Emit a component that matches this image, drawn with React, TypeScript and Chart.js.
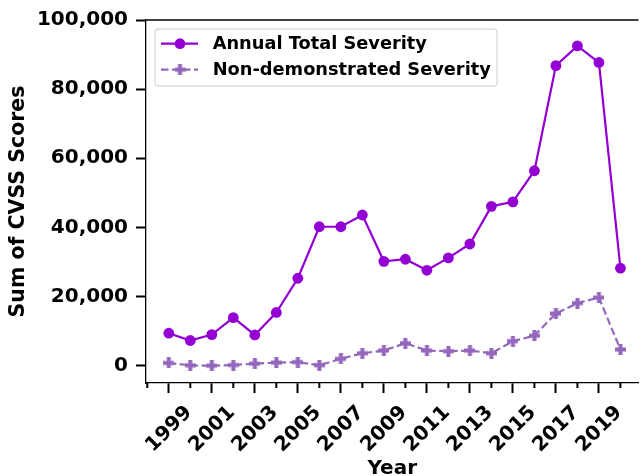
import React, { useEffect, useRef } from 'react';
import { Chart, registerables } from 'chart.js';

Chart.register(...registerables);

const years = [1999, 2000, 2001, 2002, 2003, 2004, 2005, 2006, 2007, 2008, 2009, 2010, 2011, 2012, 2013, 2014, 2015, 2016, 2017, 2018, 2019, 2020];
const annualTotal = [9400, 7300, 9000, 13900, 8900, 15400, 25300, 40200, 40200, 43600, 30200, 30800, 27600, 31200, 35200, 46100, 47400, 56400, 86800, 92500, 87700, 28200];
const nonDemonstrated = [800, 100, 0, 200, 600, 900, 1050, 150, 2000, 3600, 4400, 6500, 4400, 4200, 4400, 3600, 7100, 8700, 15100, 18100, 19700, 4700];
const xTickYears = [1999, 2001, 2003, 2005, 2007, 2009, 2011, 2013, 2015, 2017, 2019];
const yTicks = [0, 20000, 40000, 60000, 80000, 100000];
const seriesLabels = ['Annual Total Severity', 'Non-demonstrated Severity'];

const FAMILY = '"DejaVu Sans", sans-serif';
const annualColor = '#9400d3';
const nonDemColor = '#9467bd';

function makePlus(size: number, arm: number, color: string) {
  const c = document.createElement('canvas');
  c.width = size;
  c.height = size;
  const ctx = c.getContext('2d')!;
  ctx.fillStyle = color;
  const a = (size - arm) / 2;
  ctx.fillRect(a, 0, arm, size);
  ctx.fillRect(0, a, size, arm);
  return c;
}

const decor = {
  id: 'decor',
  afterDraw(chart: any) {
    const { ctx, chartArea: ca, scales } = chart;
    const xs = scales.x;
    ctx.save();
    // top spine
    ctx.strokeStyle = '#000';
    ctx.lineWidth = 1.3;
    ctx.beginPath();
    ctx.moveTo(ca.left, ca.top);
    ctx.lineTo(ca.right, ca.top);
    ctx.stroke();
    // minor ticks
    ctx.lineWidth = 2;
    for (let yr = Math.ceil(xs.min); yr <= Math.floor(xs.max); yr++) {
      if (xTickYears.includes(yr)) continue;
      const px = xs.getPixelForValue(yr);
      ctx.beginPath();
      ctx.moveTo(px, ca.bottom);
      ctx.lineTo(px, ca.bottom + 5);
      ctx.stroke();
    }
    // legend
    const lx = ca.left + 9;
    const ly = ca.top + 9;
    const lw = 342;
    const lh = 57;
    ctx.beginPath();
    const r = 3;
    ctx.moveTo(lx + r, ly);
    ctx.lineTo(lx + lw - r, ly);
    ctx.arcTo(lx + lw, ly, lx + lw, ly + r, r);
    ctx.lineTo(lx + lw, ly + lh - r);
    ctx.arcTo(lx + lw, ly + lh, lx + lw - r, ly + lh, r);
    ctx.lineTo(lx + r, ly + lh);
    ctx.arcTo(lx, ly + lh, lx, ly + lh - r, r);
    ctx.lineTo(lx, ly + r);
    ctx.arcTo(lx, ly, lx + r, ly, r);
    ctx.closePath();
    ctx.fillStyle = 'rgba(255,255,255,0.8)';
    ctx.fill();
    ctx.strokeStyle = '#cccccc';
    ctx.lineWidth = 1;
    ctx.stroke();

    chart.data.datasets.forEach((ds: any, i: number) => {
      const cy = ly + 14.7 + i * 26;
      ctx.strokeStyle = ds.borderColor;
      ctx.lineWidth = ds.borderWidth;
      ctx.setLineDash(ds.borderDash || []);
      ctx.beginPath();
      ctx.moveTo(lx + 6, cy);
      ctx.lineTo(lx + 43, cy);
      ctx.stroke();
      ctx.setLineDash([]);
      const mx = lx + 25;
      if (i === 0) {
        ctx.fillStyle = ds.backgroundColor;
        ctx.beginPath();
        ctx.arc(mx, cy, ds.pointRadius, 0, Math.PI * 2);
        ctx.fill();
      } else {
        const img = ds.pointStyle;
        ctx.drawImage(img, mx - img.width / 2, cy - img.height / 2);
      }
      ctx.fillStyle = '#000';
      ctx.font = `bold 17.8px ${FAMILY}`;
      ctx.textAlign = 'left';
      ctx.textBaseline = 'middle';
      ctx.fillText(ds.label, lx + 57.7, cy + 1);
    });
    ctx.restore();
  },
};

export default function App() {
  const ref = useRef<HTMLCanvasElement>(null);
  useEffect(() => {
    document.body.style.margin = '0';
    const plus = makePlus(11, 4, nonDemColor);
    const font = { family: FAMILY, size: 20, weight: 'bold' as const };
    const chart = new Chart(ref.current!, {
      type: 'line',
      data: {
        datasets: [
          {
            label: seriesLabels[0],
            data: years.map((y, i) => ({ x: y, y: annualTotal[i] })),
            borderColor: annualColor,
            backgroundColor: annualColor,
            borderWidth: 2.2,
            pointRadius: 5.4,
            pointBorderWidth: 0,
            pointStyle: 'circle',
          },
          {
            label: seriesLabels[1],
            data: years.map((y, i) => ({ x: y, y: nonDemonstrated[i] })),
            borderColor: nonDemColor,
            backgroundColor: nonDemColor,
            borderWidth: 2.2,
            borderDash: [7.5, 3.5],
            pointRadius: 5.5,
            pointBorderWidth: 0,
            pointStyle: plus as any,
          },
        ],
      },
      options: {
        animation: false,
        responsive: false,
        maintainAspectRatio: false,
        layout: { padding: { top: 18, left: 0, right: 0, bottom: 0 } },
        plugins: { legend: { display: false }, tooltip: { enabled: false } },
        scales: {
          x: {
            type: 'linear',
            min: 1997.94,
            max: 2020.84,
            afterBuildTicks: (s: any) => {
              s.ticks = xTickYears.map((v) => ({ value: v }));
            },
            afterFit: (s: any) => {
              s.height = 93;
            },
            grid: { display: true, drawOnChartArea: false, tickLength: 10, tickWidth: 2, tickColor: '#000' },
            border: { display: true, color: '#000', width: 1.3 },
            ticks: {
              autoSkip: false,
              maxRotation: 45,
              minRotation: 45,
              padding: 8,
              labelOffset: 20,
              color: '#000',
              font,
              callback: (v: any) => String(v),
            },
            title: {
              display: true,
              text: 'Year',
              color: '#000',
              font: { ...font, lineHeight: 1 },
              padding: { top: 0, bottom: -3 },
            },
          },
          y: {
            type: 'linear',
            min: -5000,
            max: 100000,
            afterBuildTicks: (s: any) => {
              s.ticks = yTicks.map((v) => ({ value: v }));
            },
            afterFit: (s: any) => {
              s.width = 146;
            },
            grid: { display: true, drawOnChartArea: false, tickLength: 10, tickWidth: 2, tickColor: '#000' },
            border: { display: true, color: '#000', width: 1.3 },
            ticks: {
              padding: 8,
              color: '#000',
              font,
              callback: (v: any) => Number(v).toLocaleString('en-US'),
            },
            title: {
              display: true,
              text: 'Sum of CVSS Scores',
              color: '#000',
              font: { ...font, size: 20.5, lineHeight: 1 },
              padding: { top: 8, bottom: 0 },
            },
          },
        },
      },
      plugins: [decor],
    });
    return () => chart.destroy();
  }, []);
  return <canvas ref={ref} width={644} height={476} style={{ display: 'block' }} />;
}
